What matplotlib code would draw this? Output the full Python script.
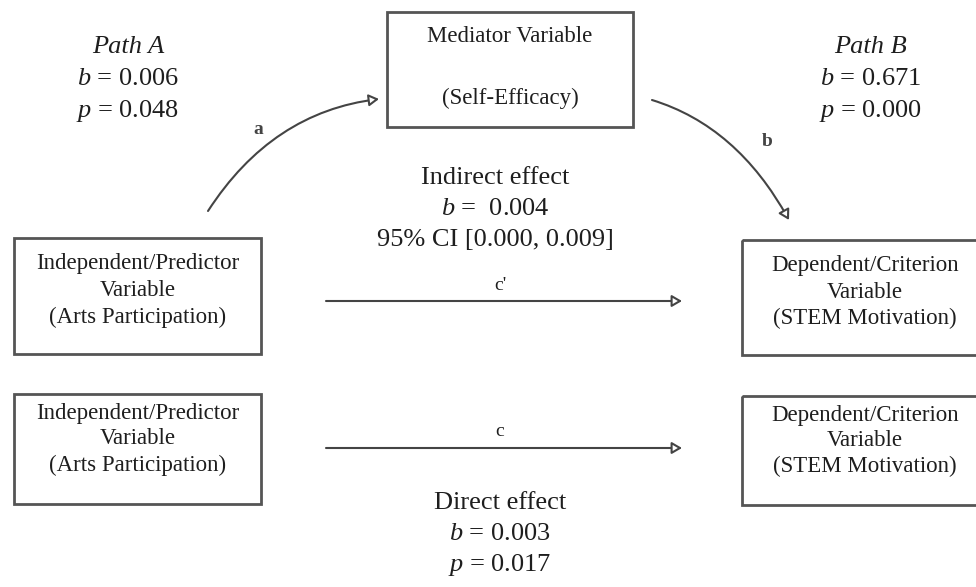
import matplotlib
matplotlib.use("Agg")
import matplotlib.pyplot as plt
from matplotlib.patches import Rectangle, FancyArrowPatch
from matplotlib.path import Path

plt.rcParams['font.family'] = ['Liberation Serif', 'DejaVu Serif']
plt.rcParams['mathtext.fontset'] = 'custom'
plt.rcParams['mathtext.rm'] = 'Liberation Serif'
plt.rcParams['mathtext.it'] = 'Liberation Serif:italic'

# --- content ---
mediator_lines = ["Mediator Variable", "", "(Self-Efficacy)"]
predictor_lines = ["Independent/Predictor", "Variable", "(Arts Participation)"]
criterion_lines = ["Dependent/Criterion", "Variable", "(STEM Motivation)"]

path_a = ("Path A", 0.006, 0.048)
path_b = ("Path B", 0.671, 0.000)
indirect_b = 0.004
indirect_ci = [0.000, 0.009]
direct_b = 0.003
direct_p = 0.017

line_col = '#444444'
box_col = '#555555'
txt_col = '#1e1e1e'

fig = plt.figure(figsize=(9.76, 5.87), dpi=100)
ax = fig.add_axes([0, 0, 1, 1])
ax.set_xlim(0, 976)
ax.set_ylim(587, 0)
ax.axis('off')


def box(x0, y0, w, h, lines, ys):
    ax.add_patch(Rectangle((x0, y0), w, h, fill=False, ec=box_col, lw=2))
    for s, y in zip(lines, ys):
        ax.text(x0 + w / 2, y, s, ha='center', va='center', fontsize=16.5, color=txt_col)


box(387, 12, 246, 115, mediator_lines, [37, 67, 98])
box(14, 238, 247, 116, predictor_lines, [264, 290, 317])
box(742, 240, 246, 115, criterion_lines, [265, 292, 318])
box(14, 394, 247, 110, predictor_lines, [414, 439, 465])
box(742, 396, 246, 109, criterion_lines, [416, 441, 466])


def arrow(verts, codes):
    p = FancyArrowPatch(path=Path(verts, codes),
                        arrowstyle='-|>,head_length=0.6,head_width=0.35',
                        mutation_scale=10, lw=1.5, ec=line_col, fc='white')
    ax.add_patch(p)


C3 = [Path.MOVETO, Path.CURVE3, Path.CURVE3]
L2 = [Path.MOVETO, Path.LINETO]
arrow([(208, 211), (272, 112), (379, 99)], C3)
arrow([(652, 100), (737, 126), (789, 220)], C3)
arrow([(326, 301), (682, 301)], L2)
arrow([(326, 448), (682, 448)], L2)

ax.text(258, 129, "a", ha='center', va='center', fontsize=14, fontweight='bold', color=line_col)
ax.text(767, 141, "b", ha='center', va='center', fontsize=14, fontweight='bold', color=line_col)
ax.text(500, 285, "c'", ha='center', va='center', fontsize=14, color=txt_col)
ax.text(500, 432, "c", ha='center', va='center', fontsize=14, color=txt_col)

fs = 19
for (name, b, p), x in [(path_a, 128), (path_b, 871)]:
    ax.text(x, 47, name, ha='center', va='center', fontsize=fs, style='italic', color=txt_col)
    ax.text(x, 79, "$b$ = {:.3f}".format(b), ha='center', va='center', fontsize=fs, color=txt_col)
    ax.text(x, 111, "$p$ = {:.3f}".format(p), ha='center', va='center', fontsize=fs, color=txt_col)

ax.text(495, 178, "Indirect effect", ha='center', va='center', fontsize=fs, color=txt_col)
ax.text(495, 209, "$b$ =  {:.3f}".format(indirect_b), ha='center', va='center', fontsize=fs, color=txt_col)
ax.text(495, 240, "95% CI [{:.3f}, {:.3f}]".format(*indirect_ci), ha='center', va='center',
        fontsize=fs, color=txt_col)

ax.text(500, 503, "Direct effect", ha='center', va='center', fontsize=fs, color=txt_col)
ax.text(500, 534, "$b$ = {:.3f}".format(direct_b), ha='center', va='center', fontsize=fs, color=txt_col)
ax.text(500, 565, "$p$ = {:.3f}".format(direct_p), ha='center', va='center', fontsize=fs, color=txt_col)

fig.savefig("out.png", dpi=100)
